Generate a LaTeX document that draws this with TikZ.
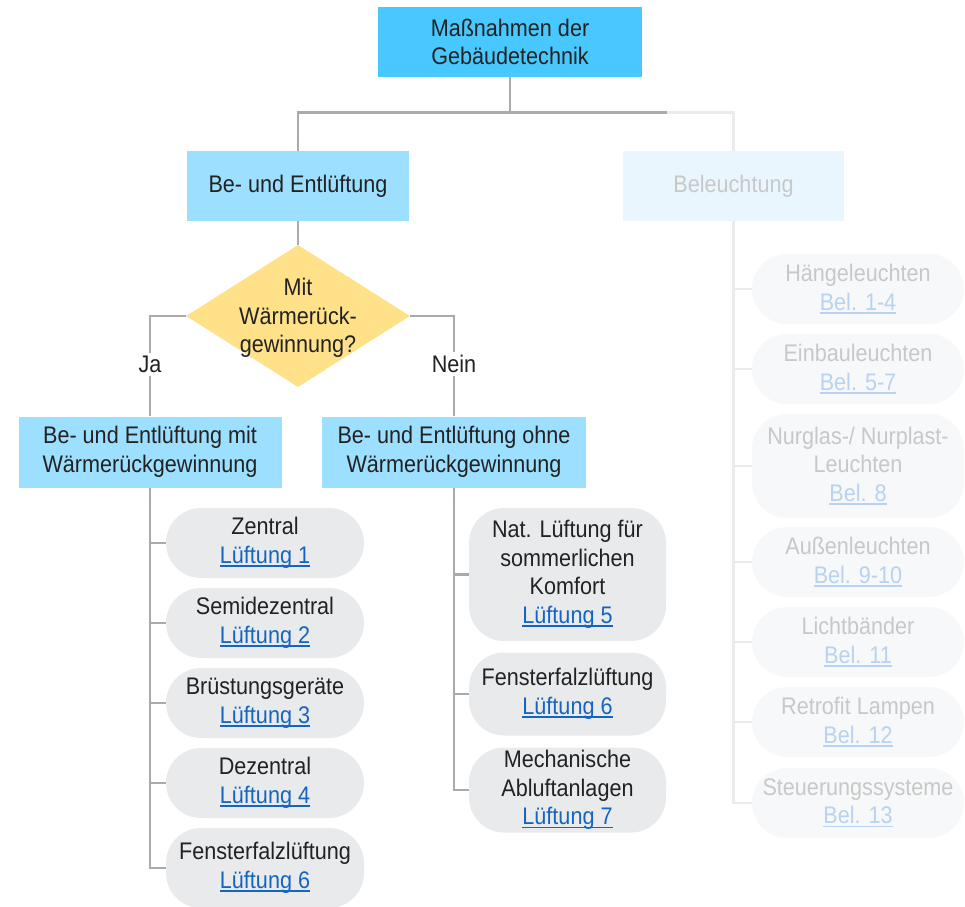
\documentclass[tikz,border=0pt]{standalone}
\usepackage{fontspec}
\setmainfont{Liberation Sans}[FakeStretch=0.9]
\usepackage{tikz}
\usetikzlibrary{shapes.geometric}
\definecolor{GTTop}{HTML}{48C8FF}
\definecolor{GTVent}{HTML}{9DDFFF}
\definecolor{GTAsk}{HTML}{FFE18A}
\definecolor{GTLeaf}{HTML}{E8EAEC}
\definecolor{GTLine}{HTML}{AAAAAA}
\definecolor{GTText}{HTML}{222222}
\definecolor{GTLink}{HTML}{1565C0}
\definecolor{GTFadeBox}{HTML}{EAF6FE}
\definecolor{GTFadeLeaf}{HTML}{F7F8F9}
\definecolor{GTFadeLine}{HTML}{EBEBEB}
\definecolor{GTFadeText}{HTML}{C8C8C8}
\definecolor{GTFadeLink}{HTML}{B8D2F0}
\newcommand{\ulink}[2]{{\color{#1}\setbox0=\hbox{#2}\rlap{\copy0}\raisebox{-3.5pt}{\rule{\wd0}{1.5pt}}}}
\newcommand{\lk}[1]{\ulink{GTLink}{#1}}
\newcommand{\flk}[1]{\ulink{GTFadeLink}{#1}}

\begin{document}
\begin{tikzpicture}[x=1pt,y=-1pt,
  every node/.style={font=\fontsize{24}{28.5}\selectfont,text=GTText,align=center,inner sep=0pt},
  headbox/.style={fill=#1,minimum width=222,minimum height=70},
  leaf/.style={fill=GTLeaf,rounded corners=35,minimum width=198,minimum height=70},
  fadeleaf/.style={fill=GTFadeLeaf,text=GTFadeText,rounded corners=35,minimum width=212,minimum height=70},
  line/.style={draw=GTLine,line width=2.5},
  fadeline/.style={draw=GTFadeLine,line width=2.5}]
\path[use as bounding box] (0,0) rectangle (965,906);
\node[headbox=GTTop,minimum width=264] (top) at (510,42) {Maßnahmen der\\Gebäudetechnik};
\node[headbox=GTVent] (vent) at (298,186) {Be- und Entlüftung};
\node[headbox=GTFadeBox,minimum width=221,text=GTFadeText] (light) at (733.5,186) {Beleuchtung};
\node[shape=diamond,fill=GTAsk,minimum width=224,minimum height=142,
  label={[yshift=-2pt]center:Mit\\Wärmerück-\\gewinnung?}] (ask) at (298,316) {};
\node[headbox=GTVent,minimum width=263,minimum height=71] (wrg) at (150,452) {Be- und Entlüftung mit\\Wärmerückgewinnung};
\node[headbox=GTVent,minimum width=264,minimum height=71] (nowrg) at (454,452) {Be- und Entlüftung ohne\\Wärmerückgewinnung};

\node[leaf] (zentral) at (265,543) {Zentral\\\lk{Lüftung 1}};
\node[leaf] (semi) at (265,623) {Semidezentral\\\lk{Lüftung 2}};
\node[leaf] (brust) at (265,703) {Brüstungsgeräte\\\lk{Lüftung 3}};
\node[leaf] (dez) at (265,783) {Dezentral\\\lk{Lüftung 4}};
\node[leaf,minimum height=80] (fenl) at (265,868) {Fensterfalzlüftung\\\lk{Lüftung 6}};

\node[leaf,minimum width=197,minimum height=133] (nat) at (567.5,574.5) {Nat. Lüftung für\\sommerlichen\\Komfort\\\lk{Lüftung 5}};
\node[leaf,minimum width=197,minimum height=83] (fenr) at (567.5,694) {Fensterfalzlüftung\\\lk{Lüftung 6}};
\node[leaf,minimum width=197,minimum height=85] (mech) at (567.5,790) {Mechanische\\Abluftanlagen\\\lk{Lüftung 7}};

\node[fadeleaf] (haenge) at (858,289) {Hängeleuchten\\\flk{Bel. 1-4}};
\node[fadeleaf] (einbau) at (858,369) {Einbauleuchten\\\flk{Bel. 5-7}};
\node[fadeleaf,minimum height=104] (nurglas) at (858,466) {Nurglas-/ Nurplast-\\Leuchten\\\flk{Bel. 8}};
\node[fadeleaf] (aussen) at (858,562) {Außenleuchten\\\flk{Bel. 9-10}};
\node[fadeleaf] (licht) at (858,642) {Lichtbänder\\\flk{Bel. 11}};
\node[fadeleaf] (retro) at (858,722) {Retrofit Lampen\\\flk{Bel. 12}};
\node[fadeleaf] (steuer) at (858,803) {Steuerungssysteme\\\flk{Bel. 13}};

\coordinate (fork) at (510,112.5);
\coordinate (forkend) at (667,112.5);
\draw[fadeline] (top.south) -- (fork) -| (light.north);
\foreach \lamp in {haenge,einbau,nurglas,aussen,licht,retro,steuer}
  \draw[fadeline] (light.south) |- (\lamp.west);
\draw[line] (top.south) -- (fork) -| (vent.north);
\draw[line] (fork) -- (forkend);
\draw[line] (vent.south) -- (ask.north);
\draw[line] (ask.west) -| node[pos=0.74,fill=white,inner sep=3pt] (ja) {Ja} (wrg.north);
\draw[line] (ask.east) -| node[pos=0.74,fill=white,inner sep=3pt] (nein) {Nein} (nowrg.north);
\foreach \unit in {zentral,semi,brust,dez,fenl}
  \draw[line] (wrg.south) |- (\unit.west);
\foreach \unit in {nat,fenr,mech}
  \draw[line] (nowrg.south) |- (\unit.west);
\end{tikzpicture}
\end{document}
